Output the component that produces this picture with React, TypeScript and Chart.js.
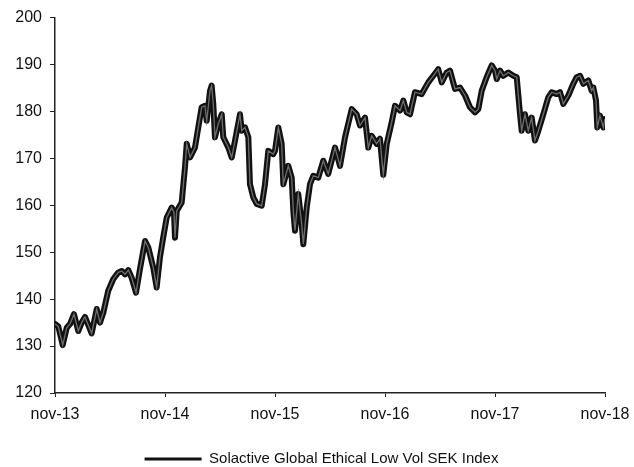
import React, { useEffect, useRef } from "react";
import { Chart, registerables } from "chart.js";

Chart.register(...registerables);

// months since nov-13
const months = [
  0, 0.36, 0.84, 1.28, 1.64, 2.07, 2.54, 2.91, 3.27, 4.0, 4.55, 4.91, 5.27, 5.81, 6.36, 6.91,
  7.28, 7.64, 8.0, 8.37, 8.84, 9.27, 9.82, 10.18, 10.72, 11.09, 11.45, 11.81, 12.19, 12.73,
  12.98, 13.09, 13.28, 13.82, 14.18, 14.37, 14.73, 15.27, 15.63, 16.0, 16.36, 16.55, 16.91,
  17.09, 17.27, 17.45, 17.81, 18.19, 18.36, 18.91, 19.28, 19.64, 20.18, 20.37, 20.73, 21.09,
  21.27, 21.63, 22.0, 22.55, 22.91, 23.27, 23.81, 24.0, 24.36, 24.73, 24.91, 25.45, 25.82,
  26.0, 26.18, 26.54, 26.91, 27.09, 27.46, 27.82, 28.18, 28.72, 29.27, 29.81, 30.55, 31.09,
  31.64, 32.37, 32.91, 33.27, 33.82, 34.18, 34.55, 35.09, 35.45, 35.81, 36.19, 36.73, 37.09,
  37.64, 38.0, 38.37, 38.73, 39.27, 40.0, 40.72, 41.27, 41.81, 42.19, 42.73, 43.09, 43.64,
  44.18, 44.73, 45.27, 45.82, 46.18, 46.55, 47.09, 47.64, 48.0, 48.19, 48.55, 48.91, 49.45,
  50.0, 50.37, 50.73, 50.91, 51.27, 51.63, 52.0, 52.36, 52.73, 53.27, 53.81, 54.19, 54.73,
  55.09, 55.45, 56.0, 56.54, 56.91, 57.27, 57.64, 58.18, 58.55, 58.73, 59.02, 59.16, 59.45,
  59.82, 60.0,
];

const indexValues = [
  134.7, 134.2, 130.2, 133.9, 134.7, 136.8, 133.2, 135.0, 136.2, 132.7, 137.9, 135.0, 137.1,
  141.8, 144.3, 145.7, 146.0, 145.3, 146.2, 144.5, 141.4, 146.4, 152.4, 151.0, 146.7, 142.5,
  148.9, 153.2, 157.4, 159.5, 158.5, 153.1, 158.8, 160.6, 168.1, 173.1, 170.2, 172.3, 176.6,
  180.9, 181.2, 178.0, 184.4, 185.5, 181.6, 174.5, 177.3, 179.4, 174.5, 172.3, 170.2, 173.8,
  179.4, 175.9, 176.6, 174.5, 164.5, 161.7, 160.3, 159.9, 164.5, 171.6, 170.9, 171.6, 176.6,
  173.1, 164.5, 168.4, 165.9, 158.8, 154.6, 162.4, 156.0, 151.7, 159.5, 164.5, 166.3, 165.9,
  169.5, 166.7, 172.3, 168.4, 174.5, 180.5, 179.4, 177.0, 178.7, 172.3, 174.8, 173.1, 174.2,
  166.5, 173.1, 177.7, 181.2, 180.2, 182.3, 179.8, 179.4, 184.1, 183.7, 186.2, 187.6, 189.0,
  186.2, 188.3, 188.7, 184.8, 185.1, 183.4, 180.9, 179.8, 180.5, 184.4, 187.3, 189.8, 188.7,
  186.9, 188.7, 187.6, 188.3, 187.6, 187.3, 179.4, 175.9, 179.4, 175.9, 178.7, 173.8, 175.9,
  179.4, 183.0, 184.1, 183.7, 184.1, 181.6, 183.4, 185.9, 187.3, 187.6, 185.9, 186.6, 184.4,
  185.1, 182.3, 176.6, 179.1, 176.6, 178.4,
];

const xTickLabels = ["nov-13", "nov-14", "nov-15", "nov-16", "nov-17", "nov-18"];
const seriesName = "Solactive Global Ethical Low Vol SEK Index";

const legendShift = {
  id: "legendShift",
  afterLayout(chart: any) {
    const l = chart.legend;
    if (l) {
      l.left += 19;
      l.right += 19;
    }
  },
};

export default function App() {
  const ref = useRef<HTMLCanvasElement>(null);

  useEffect(() => {
    document.body.style.margin = "0";
    const points = months.map((m, i) => ({ x: m, y: indexValues[i] }));
    const chart = new Chart(ref.current!, {
      type: "line",
      data: {
        datasets: [
          {
            label: seriesName,
            data: points,
            borderColor: "#111111",
            borderWidth: 6,
            pointRadius: 0,
            tension: 0,
            order: 2,
            borderJoinStyle: "round",
            borderCapStyle: "round",
          },
          {
            label: "inner",
            data: points,
            borderColor: "#6e6e6e",
            borderWidth: 1.3,
            pointRadius: 0,
            tension: 0,
            order: 1,
          },
        ],
      },
      plugins: [legendShift],
      options: {
        animation: false,
        responsive: false,
        maintainAspectRatio: false,
        layout: { padding: { top: 17, right: 29, bottom: -9.5, left: 0 } },
        plugins: {
          tooltip: { enabled: false },
          legend: {
            position: "bottom",
            labels: {
              boxWidth: 57,
              boxHeight: 3,
              padding: 10,
              color: "#111",
              font: { family: "Liberation Sans, Arial, sans-serif", size: 15 },
              generateLabels: () => [
                {
                  text: seriesName,
                  fillStyle: "#111",
                  strokeStyle: "#111",
                  lineWidth: 0,
                  hidden: false,
                  datasetIndex: 0,
                  fontColor: "#111",
                } as any,
              ],
            },
          },
        },
        scales: {
          x: {
            type: "linear",
            min: 0,
            max: 60,
            afterBuildTicks: (scale: any) => {
              scale.ticks = xTickLabels.map((_, i) => ({ value: i * 12 }));
            },
            afterFit: (scale: any) => {
              scale.height = 48.5;
            },
            ticks: {
              callback: (v: any) => xTickLabels[Math.round(Number(v) / 12)] ?? "",
              color: "#111",
              padding: 4,
              maxRotation: 0,
              font: { family: "Liberation Sans, Arial, sans-serif", size: 16, lineHeight: 1.7 },
            },
            grid: {
              drawOnChartArea: false,
              drawTicks: true,
              tickLength: 4,
              color: "#222",
            },
            border: { display: true, color: "#222", width: 1.5 },
          },
          y: {
            min: 120,
            max: 200,
            afterFit: (scale: any) => {
              scale.width = 55;
            },
            ticks: {
              stepSize: 10,
              color: "#111",
              padding: 8,
              font: { family: "Liberation Sans, Arial, sans-serif", size: 16 },
            },
            grid: {
              drawOnChartArea: false,
              drawTicks: true,
              tickLength: 5,
              color: "#222",
            },
            border: { display: true, color: "#222", width: 1.5 },
          },
        },
      },
    });
    return () => chart.destroy();
  }, []);

  return (
    <div style={{ width: 634, height: 467 }}>
      <canvas ref={ref} width={634} height={467} style={{ display: "block" }} />
    </div>
  );
}
